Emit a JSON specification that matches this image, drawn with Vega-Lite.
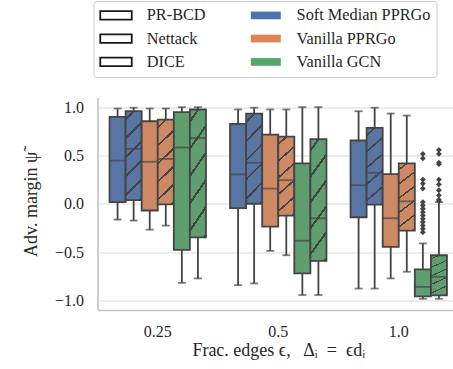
{
  "$schema": "https://vega.github.io/schema/vega-lite/v6.json",
  "width": 453,
  "height": 369,
  "autosize": {"type": "fit", "contains": "padding"},
  "padding": {"left": 21.5, "top": 97.5, "right": -6, "bottom": 10},
  "background": "white",
  "config": {
    "view": {"stroke": null},
    "font": "Liberation Serif",
    "axis": {
      "labelFont": "Liberation Serif",
      "titleFont": "Liberation Serif",
      "labelColor": "#262626",
      "titleColor": "#262626",
      "titleFontWeight": "normal",
      "ticks": false,
      "domainColor": "#c4c4c4",
      "domainWidth": 1.6,
      "gridColor": "#dadada",
      "gridWidth": 1.1
    },
    "axisY": {"labelFontSize": 16, "labelPadding": 14, "titleFontSize": 18, "titlePadding": 14, "grid": true}
  },
  "datasets": {
    "boxes": [
      {"eps": "0.25", "model": "Soft Median PPRGo", "attack": "PR-BCD", "key": "Soft Median PPRGo / PR-BCD", "lo": -0.164, "q1": 0.017, "med": 0.446, "q3": 0.9, "hi": 0.986},
      {"eps": "0.25", "model": "Soft Median PPRGo", "attack": "Nettack", "key": "Soft Median PPRGo / Nettack", "lo": -0.174, "q1": 0.038, "med": 0.568, "q3": 0.958, "hi": 0.994},
      {"eps": "0.25", "model": "Vanilla PPRGo", "attack": "PR-BCD", "key": "Vanilla PPRGo / PR-BCD", "lo": -0.268, "q1": -0.07, "med": 0.435, "q3": 0.854, "hi": 0.986},
      {"eps": "0.25", "model": "Vanilla PPRGo", "attack": "Nettack", "key": "Vanilla PPRGo / Nettack", "lo": -0.226, "q1": -0.007, "med": 0.464, "q3": 0.871, "hi": 0.986},
      {"eps": "0.25", "model": "Vanilla GCN", "attack": "PR-BCD", "key": "Vanilla GCN / PR-BCD", "lo": -0.819, "q1": -0.477, "med": 0.582, "q3": 0.948, "hi": 1.0},
      {"eps": "0.25", "model": "Vanilla GCN", "attack": "Nettack", "key": "Vanilla GCN / Nettack", "lo": -0.773, "q1": -0.349, "med": 0.68, "q3": 0.976, "hi": 1.0},
      {"eps": "0.5", "model": "Soft Median PPRGo", "attack": "PR-BCD", "key": "Soft Median PPRGo / PR-BCD", "lo": -0.843, "q1": -0.045, "med": 0.304, "q3": 0.826, "hi": 0.976},
      {"eps": "0.5", "model": "Soft Median PPRGo", "attack": "Nettack", "key": "Soft Median PPRGo / Nettack", "lo": -0.825, "q1": 0.0, "med": 0.425, "q3": 0.934, "hi": 0.994},
      {"eps": "0.5", "model": "Vanilla PPRGo", "attack": "PR-BCD", "key": "Vanilla PPRGo / PR-BCD", "lo": -0.488, "q1": -0.237, "med": 0.157, "q3": 0.715, "hi": 0.976},
      {"eps": "0.5", "model": "Vanilla PPRGo", "attack": "Nettack", "key": "Vanilla PPRGo / Nettack", "lo": -0.533, "q1": -0.122, "med": 0.244, "q3": 0.694, "hi": 0.976},
      {"eps": "0.5", "model": "Vanilla GCN", "attack": "PR-BCD", "key": "Vanilla GCN / PR-BCD", "lo": -0.945, "q1": -0.721, "med": -0.383, "q3": 0.419, "hi": 1.0},
      {"eps": "0.5", "model": "Vanilla GCN", "attack": "Nettack", "key": "Vanilla GCN / Nettack", "lo": -0.945, "q1": -0.592, "med": -0.15, "q3": 0.67, "hi": 1.0},
      {"eps": "1.0", "model": "Soft Median PPRGo", "attack": "PR-BCD", "key": "Soft Median PPRGo / PR-BCD", "lo": -0.878, "q1": -0.14, "med": 0.192, "q3": 0.655, "hi": 0.958},
      {"eps": "1.0", "model": "Soft Median PPRGo", "attack": "Nettack", "key": "Soft Median PPRGo / Nettack", "lo": -0.878, "q1": -0.01, "med": 0.32, "q3": 0.785, "hi": 0.994},
      {"eps": "1.0", "model": "Vanilla PPRGo", "attack": "PR-BCD", "key": "Vanilla PPRGo / PR-BCD", "lo": -0.773, "q1": -0.446, "med": -0.15, "q3": 0.307, "hi": 0.934},
      {"eps": "1.0", "model": "Vanilla PPRGo", "attack": "Nettack", "key": "Vanilla PPRGo / Nettack", "lo": -0.704, "q1": -0.279, "med": 0.025, "q3": 0.419, "hi": 0.913},
      {"eps": "1.0", "model": "Vanilla GCN", "attack": "PR-BCD", "key": "Vanilla GCN / PR-BCD", "lo": -0.984, "q1": -0.958, "med": -0.861, "q3": -0.679, "hi": -0.411},
      {"eps": "1.0", "model": "Vanilla GCN", "attack": "Nettack", "key": "Vanilla GCN / Nettack", "lo": -0.984, "q1": -0.948, "med": -0.756, "q3": -0.533, "hi": 0.017}
    ],
    "outliers": [
      {"eps": "1.0", "key": "Vanilla GCN / PR-BCD", "value": 0.516},
      {"eps": "1.0", "key": "Vanilla GCN / PR-BCD", "value": 0.47},
      {"eps": "1.0", "key": "Vanilla GCN / PR-BCD", "value": 0.25},
      {"eps": "1.0", "key": "Vanilla GCN / PR-BCD", "value": 0.21},
      {"eps": "1.0", "key": "Vanilla GCN / PR-BCD", "value": 0.157},
      {"eps": "1.0", "key": "Vanilla GCN / PR-BCD", "value": 0.017},
      {"eps": "1.0", "key": "Vanilla GCN / PR-BCD", "value": -0.017},
      {"eps": "1.0", "key": "Vanilla GCN / PR-BCD", "value": -0.052},
      {"eps": "1.0", "key": "Vanilla GCN / PR-BCD", "value": -0.087},
      {"eps": "1.0", "key": "Vanilla GCN / PR-BCD", "value": -0.122},
      {"eps": "1.0", "key": "Vanilla GCN / PR-BCD", "value": -0.156},
      {"eps": "1.0", "key": "Vanilla GCN / PR-BCD", "value": -0.19},
      {"eps": "1.0", "key": "Vanilla GCN / PR-BCD", "value": -0.226},
      {"eps": "1.0", "key": "Vanilla GCN / PR-BCD", "value": -0.26},
      {"eps": "1.0", "key": "Vanilla GCN / PR-BCD", "value": -0.296},
      {"eps": "1.0", "key": "Vanilla GCN / Nettack", "value": 0.557},
      {"eps": "1.0", "key": "Vanilla GCN / Nettack", "value": 0.516},
      {"eps": "1.0", "key": "Vanilla GCN / Nettack", "value": 0.425},
      {"eps": "1.0", "key": "Vanilla GCN / Nettack", "value": 0.41},
      {"eps": "1.0", "key": "Vanilla GCN / Nettack", "value": 0.25},
      {"eps": "1.0", "key": "Vanilla GCN / Nettack", "value": 0.2},
      {"eps": "1.0", "key": "Vanilla GCN / Nettack", "value": 0.14},
      {"eps": "1.0", "key": "Vanilla GCN / Nettack", "value": 0.087},
      {"eps": "1.0", "key": "Vanilla GCN / Nettack", "value": 0.042},
      {"eps": "1.0", "key": "Vanilla GCN / Nettack", "value": 0.028}
    ]
  },
  "encoding": {
    "x": {
      "field": "eps",
      "type": "nominal",
      "sort": ["0.25", "0.5", "1.0"],
      "scale": {"paddingInner": 0, "paddingOuter": 0, "align": 0},
      "axis": {"labelAngle": 0, "labelFontSize": 16, "labelPadding": 13, "titleFontSize": 18, "titlePadding": 2, "grid": false},
      "title": "Frac. edges ϵ,\u2002\u2009Δᵢ\u2002=\u2002ϵdᵢ"
    },
    "xOffset": {
      "field": "key",
      "type": "nominal",
      "sort": ["Soft Median PPRGo / PR-BCD", "Soft Median PPRGo / Nettack", "Vanilla PPRGo / PR-BCD", "Vanilla PPRGo / Nettack", "Vanilla GCN / PR-BCD", "Vanilla GCN / Nettack"],
      "scale": {"paddingInner": 0, "paddingOuter": 0.75}
    }
  },
  "layer": [
    {
      "data": {"name": "boxes"},
      "mark": {"type": "rule", "color": "#444444", "strokeWidth": 1.8},
      "encoding": {
        "y": {
          "field": "lo",
          "type": "quantitative",
          "scale": {"domain": [-1.1, 1.1], "nice": false, "zero": false},
          "axis": {"values": [-1, -0.5, 0, 0.5, 1], "format": ".1f"},
          "title": "Adv. margin ψ̃"
        },
        "y2": {"field": "hi"}
      }
    },
    {
      "data": {"name": "boxes"},
      "mark": {"type": "tick", "color": "#444444", "size": 8, "thickness": 1.8, "orient": "horizontal"},
      "encoding": {"y": {"field": "lo", "type": "quantitative", "title": "Adv. margin ψ̃"}}
    },
    {
      "data": {"name": "boxes"},
      "mark": {"type": "tick", "color": "#444444", "size": 8, "thickness": 1.8, "orient": "horizontal"},
      "encoding": {"y": {"field": "hi", "type": "quantitative", "title": "Adv. margin ψ̃"}}
    },
    {
      "data": {"name": "boxes"},
      "mark": {"type": "bar", "stroke": "#444444", "strokeWidth": 1.8},
      "encoding": {
        "y": {"field": "q3", "type": "quantitative", "title": "Adv. margin ψ̃"},
        "y2": {"field": "q1"},
        "fill": {
          "field": "model",
          "type": "nominal",
          "scale": {"domain": ["Soft Median PPRGo", "Vanilla PPRGo", "Vanilla GCN"], "range": ["#5875a4", "#cc8963", "#5f9e6e"]},
          "legend": null
        }
      }
    },
    {
      "data": {"name": "boxes"},
      "transform": [{"filter": "datum.attack === 'Nettack'"}],
      "mark": {
        "type": "bar",
        "strokeWidth": 0,
        "fill": {
          "gradient": "linear", "x1": 0, "y1": 0, "x2": 0.208, "y2": 1.144,
          "stops": [
            {"offset": 0, "color": "rgba(68,68,68,0)"},
            {"offset": 0.068, "color": "rgba(68,68,68,0)"}, {"offset": 0.068, "color": "#444444"}, {"offset": 0.092, "color": "#444444"}, {"offset": 0.092, "color": "rgba(68,68,68,0)"},
            {"offset": 0.248, "color": "rgba(68,68,68,0)"}, {"offset": 0.248, "color": "#444444"}, {"offset": 0.272, "color": "#444444"}, {"offset": 0.272, "color": "rgba(68,68,68,0)"},
            {"offset": 0.428, "color": "rgba(68,68,68,0)"}, {"offset": 0.428, "color": "#444444"}, {"offset": 0.452, "color": "#444444"}, {"offset": 0.452, "color": "rgba(68,68,68,0)"},
            {"offset": 0.608, "color": "rgba(68,68,68,0)"}, {"offset": 0.608, "color": "#444444"}, {"offset": 0.632, "color": "#444444"}, {"offset": 0.632, "color": "rgba(68,68,68,0)"},
            {"offset": 0.788, "color": "rgba(68,68,68,0)"}, {"offset": 0.788, "color": "#444444"}, {"offset": 0.812, "color": "#444444"}, {"offset": 0.812, "color": "rgba(68,68,68,0)"},
            {"offset": 0.968, "color": "rgba(68,68,68,0)"}, {"offset": 0.968, "color": "#444444"}, {"offset": 0.992, "color": "#444444"}, {"offset": 0.992, "color": "rgba(68,68,68,0)"},
            {"offset": 1, "color": "rgba(68,68,68,0)"}
          ]
        }
      },
      "encoding": {
        "y": {"field": "q3", "type": "quantitative", "title": "Adv. margin ψ̃"},
        "y2": {"field": "q1"}
      }
    },
    {
      "data": {"name": "boxes"},
      "mark": {"type": "tick", "color": "#444444", "size": 16, "thickness": 1.8, "orient": "horizontal"},
      "encoding": {"y": {"field": "med", "type": "quantitative", "title": "Adv. margin ψ̃"}}
    },
    {
      "data": {"name": "outliers"},
      "mark": {"type": "point", "shape": "diamond", "filled": true, "color": "#444444", "size": 34, "opacity": 1},
      "encoding": {"y": {"field": "value", "type": "quantitative", "title": "Adv. margin ψ̃"}}
    },
    {
      "data": {"name": "boxes"},
      "mark": {"type": "point", "filled": true, "opacity": 0, "size": 0},
      "encoding": {
        "y": {"field": "med", "type": "quantitative", "title": "Adv. margin ψ̃"},
        "color": {
          "field": "model",
          "type": "nominal",
          "scale": {
            "domain": ["PR-BCD", "Nettack", "DICE", "Soft Median PPRGo", "Vanilla PPRGo", "Vanilla GCN"],
            "range": ["#ffffff", "#ffffff", "#ffffff", "#4c72b0", "#dd8452", "#55a868"]
          },
          "legend": {
            "orient": "none",
            "legendX": -4,
            "legendY": -96.5,
            "columns": 2,
            "title": null,
            "columnPadding": 42.8,
            "rowPadding": 6.4,
            "padding": 6,
            "strokeColor": "#cccccc",
            "fillColor": "#ffffff",
            "cornerRadius": 3,
            "labelFont": "Liberation Serif",
            "labelFontSize": 16.3,
            "labelColor": "#262626",
            "labelOffset": 31,
            "labelLimit": 300,
            "encode": {
              "symbols": {
                "update": {
                  "shape": [
                    {"test": "indexof(['PR-BCD','Nettack','DICE'], datum.value) >= 0", "value": "M-3.15,-0.85H3.15V0.85H-3.15Z"},
                    {"value": "M-3,-0.77H3V0.77H-3Z"}
                  ],
                  "size": {"value": 100},
                  "x": {"value": 16.5},
                  "opacity": {"value": 1},
                  "fillOpacity": {"value": 1},
                  "strokeOpacity": {"value": 1},
                  "strokeWidth": {"value": 1.8},
                  "stroke": [
                    {"test": "indexof(['PR-BCD','Nettack','DICE'], datum.value) >= 0", "value": "#1a1a1a"},
                    {"value": null}
                  ],
                  "fill": [
                    {"test": "datum.value === 'Nettack'", "value": {
                      "gradient": "linear", "x1": 0, "y1": 0, "x2": 1.193, "y2": 0.358,
                      "stops": [
                        {"offset": 0, "color": "#ffffff"},
                        {"offset": 0.355, "color": "#ffffff"}, {"offset": 0.355, "color": "#1a1a1a"}, {"offset": 0.425, "color": "#1a1a1a"}, {"offset": 0.425, "color": "#ffffff"},
                        {"offset": 0.655, "color": "#ffffff"}, {"offset": 0.655, "color": "#1a1a1a"}, {"offset": 0.725, "color": "#1a1a1a"}, {"offset": 0.725, "color": "#ffffff"},
                        {"offset": 1, "color": "#ffffff"}
                      ]
                    }},
                    {"test": "datum.value === 'DICE'", "value": {
                      "gradient": "linear", "x1": 0, "y1": 1, "x2": 1.193, "y2": 0.642,
                      "stops": [
                        {"offset": 0, "color": "#ffffff"},
                        {"offset": 0.315, "color": "#ffffff"}, {"offset": 0.315, "color": "#1a1a1a"}, {"offset": 0.385, "color": "#1a1a1a"}, {"offset": 0.385, "color": "#ffffff"},
                        {"offset": 0.705, "color": "#ffffff"}, {"offset": 0.705, "color": "#1a1a1a"}, {"offset": 0.775, "color": "#1a1a1a"}, {"offset": 0.775, "color": "#ffffff"},
                        {"offset": 1, "color": "#ffffff"}
                      ]
                    }},
                    {"test": "datum.value === 'PR-BCD'", "value": "#ffffff"},
                    {"test": "datum.value === 'Soft Median PPRGo'", "value": "#4c72b0"},
                    {"test": "datum.value === 'Vanilla PPRGo'", "value": "#dd8452"},
                    {"value": "#55a868"}
                  ]
                }
              }
            }
          }
        }
      }
    },
    {
      "mark": {"type": "rule", "color": "#c4c4c4", "strokeWidth": 1.6},
      "encoding": {"y": {"datum": 1.1, "type": "quantitative", "title": "Adv. margin ψ̃"}, "x": null, "xOffset": null}
    }
  ]
}
